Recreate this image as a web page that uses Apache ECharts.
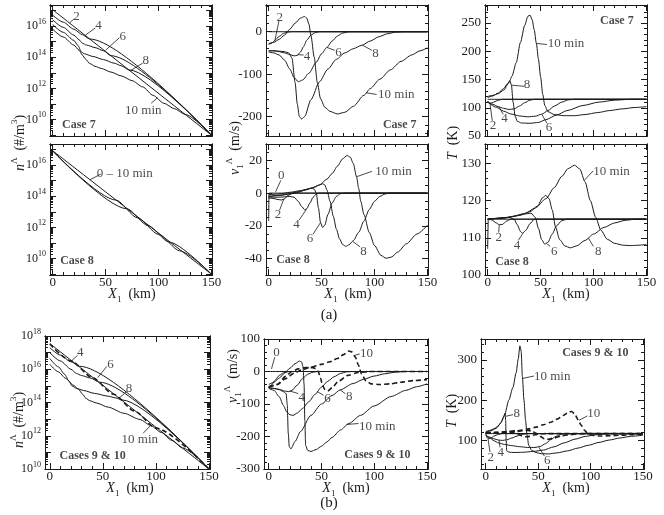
<!DOCTYPE html>
<html><head><meta charset="utf-8">
<script src="https://cdn.jsdelivr.net/npm/echarts@6/dist/echarts.min.js"></script>
<style>html,body{margin:0;padding:0;background:#fff}#c{width:664px;height:515px}</style>
</head><body><div id="c"></div>
<script>
const FONT = '"Liberation Serif","Times New Roman",serif';
const INK = '#1a1a1a';

// ---------- shared tick labels ----------
const X_LABELS = [0, 50, 100, 150];
const N_LABELS_78 = [10, 12, 14, 16];
const V7_LABELS = [-200, -100, 0];
const T7_LABELS = [50, 100, 150, 200, 250];
const V8_LABELS = [-40, -20, 0, 20];
const T8_LABELS = [100, 110, 120, 130];
const N_LABELS_910 = [10, 12, 14, 16, 18];
const V910_LABELS = [-300, -200, -100, 0, 100];
const T910_LABELS = [100, 200, 300];

// ---------- (a) Case 7 : density, log10 of n (#/m^3) ----------
const nC7_2  = [[0,17.05],[150,9.0]];
const nC7_4  = [[0,16.7],[10,16.25],[20,15.8],[28,15.45],[35,15.17],[150,9.0]];
const nC7_6  = [[0,16.4],[10,15.92],[20,15.42],[25,15.12],[28,14.9],[32,14.78],[40,14.62],[48,14.42],[55,14.1],[150,9.0]];
const nC7_8  = [[0,16.1],[10,15.6],[20,15.08],[24,14.75],[27,14.35],[30,14.22],[38,14.05],[48,13.85],[58,13.62],[65,13.45],[72,13.19],[150,9.0]];
const nC7_10 = [[0,15.8],[10,15.3],[20,14.78],[25,14.45],[28,14.15],[31,13.88],[35,13.6],[40,13.42],[46,13.28],[55,13.05],[65,12.8],[75,12.5],[85,12.1],[95,11.55],[105,11.05],[115,10.7],[125,10.34],[150,9.0]];

// ---------- Case 7 : velocity (m/s) ----------
const vC7_0  = [[0,0],[150,0]];
const vC7_2  = [[0,-30],[3,-27],[6,-20],[10,-11],[14,-4],[18,-1],[22,0],[150,0]];
const vC7_4  = [[0,-45],[5,-45],[10,-47],[15,-50],[20,-54],[24,-57],[27,-56],[30,-48],[33,-35],[36,-20],[40,-8],[44,-2],[48,0],[150,0]];
const vC7_6  = [[0,-48],[5,-50],[10,-55],[15,-67],[20,-88],[24,-108],[28,-118],[32,-114],[38,-98],[45,-72],[50,-52],[55,-37],[60,-22],[65,-10],[70,-3],[76,0],[150,0]];
const vC7_8  = [[0,-45],[5,-45],[10,-46],[15,-47],[19,-50],[22,-62],[25,-120],[27,-170],[29,-200],[31,-206],[34,-200],[40,-160],[48,-118],[56,-88],[64,-65],[72,-50],[80,-40],[88,-32],[96,-22],[104,-12],[112,-5],[120,-1],[128,0],[150,0]];
const vC7_10 = [[0,-28],[5,-25],[10,-18],[15,-8],[20,6],[25,20],[30,32],[34,36],[36,32],[38,18],[40,-10],[43,-60],[46,-120],[49,-158],[53,-178],[58,-188],[65,-194],[72,-190],[80,-176],[90,-150],[96,-134],[105,-112],[115,-90],[125,-70],[135,-55],[143,-45],[150,-38]];

// ---------- Case 7 : temperature (K) ----------
const TC7_0  = [[0,115],[150,115]];
const TC7_2  = [[0,112],[2,108],[4,108.5],[7,111],[10,113.5],[14,115],[150,115]];
const TC7_4  = [[0,111],[5,106],[10,102],[15,99],[20,97],[25,98],[30,103],[35,109],[40,113.5],[44,115],[150,115]];
const TC7_6  = [[0,110],[8,101],[15,94],[22,89],[30,85.5],[38,84],[45,85],[51,88.5],[57,95],[63,103],[70,110],[76,114],[82,115],[150,115]];
const TC7_8  = [[0,118],[5,121],[10,126],[15,134],[19,143],[21,148],[22.5,140],[24,110],[26,85],[28,76],[32,73],[40,72.5],[48,74],[55,79],[65,87],[75,95],[90,104],[105,110],[120,113.5],[135,115],[150,115]];
const TC7_10 = [[0,120],[5,122],[10,125],[15,131],[20,144],[23,156],[27,180],[31,216],[35,246],[38,262],[40,264],[42,256],[44,238],[46,214],[48,186],[50,155],[52,124],[54,104],[57,93],[63,88],[72,86],[82,86],[92,88],[104,91.5],[115,95],[127,98],[139,100.5],[150,102]];

// ---------- Case 8 : density (log10) ----------
const nC8_a = [[0,16.92],[150,9.0]];
const nC8_b = [[0,16.92],[60,13.75],[80,12.62],[100,11.55],[120,10.5],[150,9.0]];
const nC8_c = [[0,16.9],[70,13.2],[90,12.12],[110,11.06],[150,9.0]];

// ---------- Case 8 : velocity ----------
const vC8_0  = [[0,-17],[0.4,0],[150,0]];
const vC8_2  = [[0,-3],[4,-3.2],[8,-3.8],[12,-4.2],[15,-3.5],[18,-1.5],[22,-0.3],[26,0],[150,0]];
const vC8_4  = [[0,-2.5],[8,-2.5],[15,-2.3],[20,-2],[24,-2.5],[28,-5],[31,-8],[34,-10.2],[36,-9.5],[39,-6],[42,-2.5],[45,-0.5],[48,0],[150,0]];
const vC8_6  = [[0,-2],[10,-1.5],[20,-0.5],[28,0.5],[35,2],[40,3],[43,2.5],[45,0],[47,-9],[49,-18],[51,-21],[53,-19.5],[56,-13],[60,-6],[64,-2],[68,-0.3],[72,0],[150,0]];
const vC8_8  = [[0,-2],[15,-1],[25,0.5],[35,2],[43,3.5],[48,5],[51,5.7],[53,5],[55,2],[58,-5],[61,-14],[64,-22],[67,-28],[70,-31.5],[73,-32.5],[76,-31.5],[80,-29],[85,-24],[90,-17],[95,-10],[100,-5],[105,-2],[110,-0.5],[115,0],[150,0]];
const vC8_10 = [[0,-1],[10,-0.5],[20,0.5],[30,1.5],[40,3],[48,5],[55,8.5],[60,12],[65,16.5],[70,21],[74,23],[77,22],[80,18],[83,10],[85,3],[87,-5],[90,-13],[95,-24],[100,-32],[106,-38],[111,-39.8],[116,-39],[122,-36],[130,-31],[140,-25],[150,-19.5]];

// ---------- Case 8 : temperature ----------
const TC8_0  = [[0,115],[150,115]];
const TC8_2  = [[0,107],[0.6,115],[4,114.8],[8,114],[11,113.5],[14,113.6],[18,114.5],[22,115],[150,115]];
const TC8_4  = [[0,115],[12,115.2],[20,115.5],[25,115],[28,113.5],[31,111.7],[33,111.2],[36,112],[40,113.8],[44,115],[150,115]];
const TC8_6  = [[0,115],[15,115.3],[25,115.8],[35,116.4],[41,116.6],[45,115.5],[48,112.5],[51,109.5],[54,108.3],[57,108.8],[61,111],[65,113.2],[70,114.6],[75,115],[150,115]];
const TC8_8  = [[0,115],[15,115.3],[30,116],[40,117],[47,118.5],[52,120.8],[55,121.4],[58,120.5],[61,117.5],[64,113],[68,109.5],[73,107.8],[78,107.3],[84,107.8],[92,109.3],[100,111],[110,112.8],[120,114],[130,114.7],[140,115],[150,115]];
const TC8_10 = [[0,115],[20,115.5],[35,116.5],[45,118],[55,120.5],[63,123.5],[70,126.5],[76,128.6],[82,129.5],[87,128.5],[92,125],[97,120],[102,115.5],[107,112],[113,109.6],[120,108.5],[128,108],[135,107.9],[142,108],[150,108.2]];

// ---------- (b) Cases 9 (solid) & 10 (dashed) : density (log10) ----------
const nC9_2  = [[0,17.55],[150,10.0]];
const nC9_4  = [[0,17.3],[10,16.85],[20,16.45],[28,16.18],[150,10.0]];
const nC9_6  = [[0,17.0],[10,16.5],[20,16.0],[25,15.75],[30,15.62],[38,15.48],[47,15.22],[150,10.0]];
const nC9_8  = [[0,16.65],[8,16.15],[14,15.7],[18,15.3],[21,15.0],[25,14.85],[32,14.72],[42,14.55],[55,14.38],[62,14.28],[68,14.155],[150,10.0]];
const nC9_10 = [[0,16.3],[8,15.85],[15,15.45],[22,15.05],[27,14.8],[31,14.5],[34,14.25],[38,14.1],[44,13.97],[55,13.72],[70,13.35],[85,12.98],[95,12.62],[105,12.2],[115,11.72],[125,11.27],[150,10.0]];
const nC10_d = [[0,17.52],[20,16.5],[40,15.5],[60,14.5],[80,13.48],[100,12.46],[150,10.0]];

// ---------- Cases 9 & 10 : velocity ----------
const vC9_0  = [[0,0],[150,0]];
const vC9_2  = [[0,-50],[3,-40],[6,-27],[10,-12],[14,-4],[18,-1],[22,0],[150,0]];
const vC9_4  = [[0,-50],[5,-52],[10,-55],[15,-60],[19,-62],[22,-58],[27,-42],[32,-22],[37,-8],[42,-2],[47,0],[150,0]];
const vC9_6  = [[0,-52],[5,-58],[10,-78],[14,-105],[17,-124],[20,-133],[23,-135],[27,-128],[32,-114],[38,-93],[44,-70],[50,-48],[56,-30],[62,-16],[68,-6],[74,-1],[80,0],[150,0]];
const vC9_8  = [[0,-50],[5,-52],[10,-56],[14,-62],[16.5,-68],[17.5,-100],[18.5,-190],[19.5,-232],[21,-238],[25,-215],[30,-185],[40,-135],[50,-100],[60,-74],[68,-56],[80,-37],[90,-24],[100,-14],[110,-7],[120,-2],[130,0],[150,0]];
const vC9_10 = [[0,-40],[5,-33],[10,-20],[15,-5],[20,10],[25,24],[29,32],[31,30],[32.5,15],[33.5,-40],[34.2,-150],[35,-228],[37,-243],[40,-246],[45,-240],[50,-230],[55,-217],[60,-203],[68,-180],[76,-160],[87,-135],[100,-106],[116,-77],[130,-58],[140,-47],[150,-38]];
const vC10_8  = [[0,-48],[8,-40],[16,-15],[22,0],[28,8],[35,12],[42,12],[45,8],[47,0],[49,-20],[51,-42],[53,-55],[56,-60],[60,-50],[66,-30],[75,-12],[85,-3],[95,0],[150,0]];
const vC10_10 = [[0,-48],[8,-40],[16,-22],[24,-5],[32,6],[40,14],[50,22],[58,30],[65,40],[71,52],[76,63],[79,60],[82,45],[85,20],[88,-8],[92,-28],[97,-38],[105,-40],[115,-38],[125,-33],[137,-28],[150,-25]];

// ---------- Cases 9 & 10 : temperature ----------
const TC9_0  = [[0,117],[150,117]];
const TC9_2  = [[0,118],[1.5,106],[3,104],[5,106],[8,111],[12,115],[16,117],[150,117]];
const TC9_4  = [[0,113],[4,108],[8,104],[12,101],[16,100],[20,101.5],[25,106],[30,111],[35,115],[40,117],[150,117]];
const TC9_6  = [[0,113],[4,106],[8,99],[12,94],[18,90],[25,87],[32,84.5],[40,82.5],[47,82.5],[52,85],[57,92],[62,102],[67,110],[72,115],[77,117],[150,117]];
const TC9_8  = [[0,120],[5,124],[10,130],[14,142],[17,158],[18.5,168],[19,150],[19.5,100],[20,74],[22,71],[27,70],[35,70.5],[45,72.5],[55,76],[65,84],[75,94],[85,103],[95,110],[105,114],[115,116.5],[125,117],[150,117]];
const TC9_10 = [[0,122],[4,125],[8,129],[12,136],[15,146],[18,163],[22,200],[26,232],[29,268],[31,302],[32.6,335],[33.8,322],[35,258],[36.5,200],[38,150],[39.5,112],[41,88],[44,75],[48,70],[53,67],[60,66.5],[68,69],[78,74],[88,81],[98,88],[108,95],[118,101],[128,106],[138,110],[150,113]];
const TC10_6  = [[0,118],[10,118],[20,118.5],[26,119],[30,117],[34,112],[38,109],[42,110],[47,114],[52,116.5],[58,117],[150,117]];
const TC10_8  = [[0,119],[10,119.5],[20,120.5],[28,122],[35,124],[40,125],[44,123.5],[48,118],[52,110],[56,104],[60,103],[65,106],[72,111],[80,114.5],[90,116.5],[100,117],[150,117]];
const TC10_10 = [[0,119],[10,120],[20,122],[30,124],[40,128],[48,133],[55,139],[62,145],[68,153],[74,162],[79,170],[82,172],[85,165],[88,152],[91,138],[94,126],[97,118],[101,113],[108,111],[118,111.5],[130,113],[140,114.5],[150,115.5]];

// ---------- annotations (data coordinates) ----------
const notesA1 = [
  {t:'2', at:[22.5,16.6], ln:[[20,16.45],[16,16.2]]},
  {t:'4', at:[43.4,16.0], ln:[[40.3,15.88],[31,15.42]]},
  {t:'6', at:[66.3,15.35], ln:[[63,15.25],[50,14.45]]},
  {t:'8', at:[88,13.8], ln:[[85,13.62],[73,13.12]]},
  {t:'10 min', at:[85.6,10.55], ln:[[93,11.05],[99,11.4]]},
  {t:'Case 7', at:[24.7,9.68], bold:true}
];
const notesB1 = [
  {t:'2', at:[10.6,34], ln:[[9.7,25],[5.9,-21]]},
  {t:'4', at:[36.3,-58.6], ln:[[33,-55],[27.5,-54]]},
  {t:'6', at:[66,-49], ln:[[62.5,-44],[55,-37]]},
  {t:'8', at:[101,-51], ln:[[97.5,-44],[88.8,-32]]},
  {t:'10 min', at:[120.6,-148], ln:[[102,-148],[92,-144]]},
  {t:'Case 7', at:[123.8,-220], bold:true}
];
const notesC1 = [
  {t:'Case 7', at:[122,254], bold:true},
  {t:'10 min', at:[74,214], ln:[[56,212],[46,214]]},
  {t:'8', at:[37.2,141.7], ln:[[34.5,138],[22.5,140]]},
  {t:'2', at:[5,69], ln:[[4.4,77],[2.2,108]]},
  {t:'4', at:[16,81], ln:[[14.7,88.5],[10.6,102]]},
  {t:'6', at:[58,65], ln:[[56,72.5],[51.3,88]]}
];
const notesA2 = [
  {t:'0 \u2013 10 min', at:[68,15.48], ln:[[45.5,15.42],[35,15.05]]},
  {t:'Case 8', at:[23,9.87], bold:true}
];
const notesB2 = [
  {t:'0', at:[12,10.6], ln:[[11.5,7.8],[6.6,0.8]]},
  {t:'2', at:[8.9,-13.3], ln:[[10.4,-10.3],[14.2,-3.8]]},
  {t:'4', at:[26.3,-19.5], ln:[[28.8,-16.4],[35.8,-9.8]]},
  {t:'6', at:[39,-28], ln:[[42,-25],[49,-18]]},
  {t:'8', at:[89.5,-36], ln:[[86.4,-32.8],[79.4,-29.5]]},
  {t:'10 min', at:[118,13.3], ln:[[97.5,13.3],[83,10]]},
  {t:'Case 8', at:[23,-41], bold:true}
];
const notesC2 = [
  {t:'10 min', at:[117,127.7], ln:[[99.7,128],[91.5,125.5]]},
  {t:'2', at:[10.4,110], ln:[[10.4,111.4],[11,113.5]]},
  {t:'4', at:[27.7,107.9], ln:[[29,109.3],[33.3,111.2]]},
  {t:'6', at:[62.8,106.4], ln:[[59,107.7],[55.5,108.5]]},
  {t:'8', at:[104.5,106.4], ln:[[99.8,107.7],[95,110]]},
  {t:'Case 8', at:[23,103.4], bold:true}
];
const notesA3 = [
  {t:'4', at:[28.8,16.98], ln:[[26.2,16.84],[19.9,16.47]]},
  {t:'6', at:[57.2,16.27], ln:[[53.7,16.17],[45.2,15.5]]},
  {t:'8', at:[74.6,14.84], ln:[[72.1,14.64],[65.1,14.25]]},
  {t:'10 min', at:[84.8,11.78], ln:[[88,12.15],[95,12.62]]},
  {t:'Cases 9 & 10', at:[40.4,10.77], bold:true}
];
const notesB3 = [
  {t:'0', at:[7.3,59], ln:[[5.7,44],[2.6,8]]},
  {t:'10', at:[92.7,54], ln:[[86.3,54],[81.5,50]]},
  {t:'4', at:[31.2,-80], ln:[[28,-68],[20,-60]]},
  {t:'6', at:[55.7,-83.5], ln:[[51.9,-73],[46.1,-62]]},
  {t:'8', at:[76.4,-78], ln:[[72.6,-68],[67.8,-57]]},
  {t:'10 min', at:[102.9,-168], ln:[[85,-160],[74,-163]]},
  {t:'Cases 9 & 10', at:[103,-257], bold:true}
];
const notesC3 = [
  {t:'Cases 9 & 10', at:[104.6,316.7], bold:true},
  {t:'10 min', at:[63.4,258], ln:[[46,260],[35,254]]},
  {t:'8', at:[29.5,166.7], ln:[[26,164],[19.2,160]]},
  {t:'10', at:[103,166.7], ln:[[97,161],[89,150]]},
  {t:'2', at:[4.8,58], ln:[[4.1,71],[2.2,104]]},
  {t:'4', at:[14.3,71], ln:[[13.6,83],[12.7,101]]},
  {t:'6', at:[58.7,50], ln:[[56,61],[50.7,83]]}
];

// ---------- panels ----------
const R12X = [-2.5,150.5], R3X = [-4.5,151];
const panels = [
  {l:50, t:5,  w:162,h:131, x:R12X, y:[8.95,17.35], log:true, lab:N_LABELS_78, xlab:false, lines:[nC7_2,nC7_4,nC7_6,nC7_8,nC7_10], notes:notesA1},
  {l:266,t:5,  w:162,h:131, x:R12X, y:[-246,63], ym:100, yn:20, lab:V7_LABELS, xlab:false, lines:[vC7_0,vC7_2,vC7_4,vC7_6,vC7_8,vC7_10], notes:notesB1},
  {l:485,t:5,  w:162,h:131, x:R12X, y:[50,282], ym:50, yn:10, lab:T7_LABELS, xlab:false, lines:[TC7_0,TC7_2,TC7_4,TC7_6,TC7_8,TC7_10], notes:notesC1},
  {l:50, t:144,w:162,h:131, x:R12X, y:[8.95,17.35], log:true, lab:N_LABELS_78, xlab:true, lines:[nC8_a,nC8_b,nC8_c], notes:notesA2},
  {l:266,t:144,w:162,h:131, x:R12X, y:[-50,30], ym:20, yn:5, lab:V8_LABELS, xlab:true, lines:[vC8_0,vC8_2,vC8_4,vC8_6,vC8_8,vC8_10], notes:notesB2},
  {l:485,t:144,w:162,h:131, x:R12X, y:[100,135.2], ym:10, yn:2, lab:T8_LABELS, xlab:true, lines:[TC8_0,TC8_2,TC8_4,TC8_6,TC8_8,TC8_10], notes:notesC2},
  {l:45, t:336,w:165,h:133, x:R3X, y:[10,18], log:true, lab:N_LABELS_910, xlab:true, lines:[nC9_2,nC9_4,nC9_6,nC9_8,nC9_10], dashed:[nC10_d], notes:notesA3},
  {l:264,t:339,w:164,h:130, x:R3X, y:[-300,100], ym:100, yn:20, lab:V910_LABELS, xlab:true, lines:[vC9_0,vC9_2,vC9_4,vC9_6,vC9_8,vC9_10], dashed:[vC10_8,vC10_10], notes:notesB3},
  {l:481,t:339,w:163,h:130, x:R3X, y:[29,352], ym:100, yn:20, lab:T910_LABELS, xlab:true, lines:[TC9_0,TC9_2,TC9_4,TC9_6,TC9_8,TC9_10], dashed:[TC10_6,TC10_8,TC10_10], notes:notesC3}
];

function linTicks(r, step){
  const a=[]; const s=Math.ceil(r[0]/step-1e-9), e=Math.floor(r[1]/step+1e-9);
  for(let i=s;i<=e;i++) a.push(+(i*step).toFixed(6));
  return a;
}
function logMinor(r){
  const a=[];
  for(let n=Math.floor(r[0]); n<=Math.ceil(r[1]); n++){
    for(let k=1;k<=9;k++){ const v=n+Math.log10(k); if(v>=r[0]-1e-9 && v<=r[1]+1e-9) a.push(+v.toFixed(6)); }
  }
  return a;
}
const LOGRICH = {
  b:{fontFamily:FONT,fontSize:12,lineHeight:17,color:INK},
  s:{fontFamily:FONT,fontSize:8,lineHeight:8,verticalAlign:'top',color:INK}
};
function ax(pos, gi, r, ticks, len, labels, fmt, rich){
  return {
    type:'value', gridIndex:gi, position:pos, min:r[0], max:r[1], scale:true,
    axisLine:{show:true,onZero:false,lineStyle:{color:INK,width:1}},
    axisTick:{show:true,inside:true,length:len,customValues:ticks,lineStyle:{color:INK,width:1}},
    axisLabel: labels ? {show:true,customValues:labels,formatter:fmt,margin:(pos==='bottom'?1:4),color:INK,fontFamily:FONT,fontSize:13,rich:rich||{}} : {show:false},
    splitLine:{show:false}, splitArea:{show:false}, minorTick:{show:false}
  };
}

const option = {animation:false, backgroundColor:'#fff', grid:[], xAxis:[], yAxis:[], series:[], graphic:[]};

panels.forEach((p,gi)=>{
  option.grid.push({left:p.l, top:p.t, width:p.w, height:p.h});
  const xi=option.xAxis.length, yi=option.yAxis.length;
  const xMaj=linTicks(p.x,50), xMin=linTicks(p.x,10);
  option.xAxis.push(ax('bottom',gi,p.x,xMaj,6,p.xlab?X_LABELS:null,v=>String(v)));
  option.xAxis.push(ax('bottom',gi,p.x,xMin,3,null));
  option.xAxis.push(ax('top',gi,p.x,xMaj,6,null));
  option.xAxis.push(ax('top',gi,p.x,xMin,3,null));
  let yMaj,yMin,fmt,rich;
  if(p.log){ yMaj=linTicks(p.y,1); yMin=logMinor(p.y); fmt=v=>'{b|10}{s|'+Math.round(v)+'}'; rich=LOGRICH; }
  else { yMaj=linTicks(p.y,p.ym); yMin=linTicks(p.y,p.yn); fmt=v=>String(v); }
  option.yAxis.push(ax('left',gi,p.y,yMaj,6,p.lab,fmt,rich));
  option.yAxis.push(ax('left',gi,p.y,yMin,3,null));
  option.yAxis.push(ax('right',gi,p.y,yMaj,6,null));
  option.yAxis.push(ax('right',gi,p.y,yMin,3,null));

  const mk=(d,dashed)=>({type:'line',xAxisIndex:xi,yAxisIndex:yi,data:d,symbol:'none',showSymbol:false,
    smooth:0.25, smoothMonotone:'x', silent:true, z:3,
    lineStyle:{color:INK,width:dashed?1.6:1,type:dashed?[5,3]:'solid'}});
  p.lines.forEach(d=>option.series.push(mk(d,false)));
  (p.dashed||[]).forEach(d=>option.series.push(mk(d,true)));
  p.notes.filter(n=>n.ln).forEach(n=>option.series.push({type:'line',xAxisIndex:xi,yAxisIndex:yi,data:n.ln,
    symbol:'none',showSymbol:false,silent:true,z:4,lineStyle:{color:INK,width:0.8}}));
  option.series.push({type:'scatter',xAxisIndex:xi,yAxisIndex:yi,symbolSize:1,silent:true,z:5,
    itemStyle:{color:'rgba(0,0,0,0)'},
    data:p.notes.map(n=>({value:n.at,name:n.t,label:{fontWeight:n.bold?'bold':'normal',fontSize:n.bold?12:13}})),
    label:{show:true,position:'inside',formatter:'{b}',color:INK,fontFamily:FONT,fontSize:13}});
});

// ---------- axis titles & panel group labels ----------
const TR = {
  i:{fontFamily:FONT,fontSize:14,fontStyle:'italic',lineHeight:20,fill:INK,color:INK},
  r:{fontFamily:FONT,fontSize:14,lineHeight:20,fill:INK,color:INK},
  a:{fontFamily:FONT,fontSize:15,lineHeight:20,fill:INK,color:INK},
  sp:{fontFamily:FONT,fontSize:9,lineHeight:9,verticalAlign:'top',fill:INK,color:INK},
  sb:{fontFamily:FONT,fontSize:9,lineHeight:12,verticalAlign:'bottom',fill:INK,color:INK}
};
function title(x,y,text,rot){
  return {type:'text',x:x,y:y,rotation:rot?Math.PI/2:0,silent:true,z:10,
    style:{text:text,rich:TR,align:'center',verticalAlign:'middle',textAlign:'center',textVerticalAlign:'middle',
      fill:INK,font:'14px '+FONT}};
}
const N_T = '{i|n}{sp|\u039B}{r|  (#/m}{sp|3}{r|)}';
const V_T = '{i|v}{sb|1}{sp|\u039B}{r|  (m/s)}';
const T_T = '{i|T}{r|  (K)}';
const X_T = '{i|X}{sb|1}{r|  (km)}';
option.graphic = [
  title(20,143,N_T,true), title(19,420,N_T,true),
  title(235,148,V_T,true), title(233,376,V_T,true),
  title(453,143,T_T,true), title(452,411,T_T,true),
  title(132,294,X_T), title(348,294,X_T), title(566,294,X_T),
  title(130,488,X_T), title(346,488,X_T), title(566,488,X_T),
  title(329,315,'{a|(a)}'), title(329,503,'{a|(b)}')
];

const chart = echarts.init(document.getElementById('c'), null, {renderer:'canvas'});
chart.setOption(option);
</script></body></html>
